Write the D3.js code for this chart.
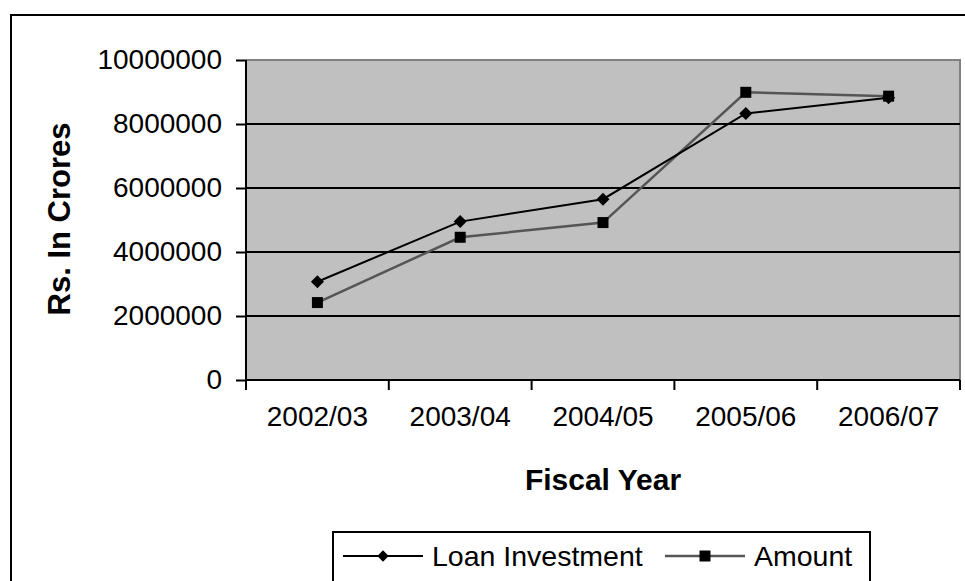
<!DOCTYPE html>
<html>
<head>
<meta charset="utf-8">
<script src="https://cdn.jsdelivr.net/npm/d3@7"></script>
<style>
  html, body { margin: 0; padding: 0; background: #fff; }
  svg { display: block; font-family: "Liberation Sans", Arial, sans-serif; }
</style>
</head>
<body>
<svg id="chart" width="965" height="581"></svg>
<script>
// Fiscal years on the x axis
const categories = ["2002/03", "2003/04", "2004/05", "2005/06", "2006/07"];
// Series values (Rs. in crores)
const loanInvestment = [3070000, 4950000, 5650000, 8330000, 8820000];
const amount = [2420000, 4460000, 4920000, 8990000, 8870000];
// Y axis tick values
const yTicks = [0, 2000000, 4000000, 6000000, 8000000, 10000000];

const svg = d3.select("#chart");

// Outer chart frame
svg.append("rect")
  .attr("x", 11).attr("y", 15)
  .attr("width", 1000).attr("height", 700)
  .attr("fill", "#fff").attr("stroke", "#000").attr("stroke-width", 2);

const plot = { left: 246, top: 60, right: 960, bottom: 380 };

const x = d3.scaleBand().domain(categories).range([plot.left, plot.right]).padding(0);
const y = d3.scaleLinear().domain([0, 10000000]).range([plot.bottom, plot.top]);

// Plot area background
svg.append("rect")
  .attr("x", plot.left).attr("y", plot.top)
  .attr("width", plot.right - plot.left).attr("height", plot.bottom - plot.top)
  .attr("fill", "#c0c0c0");

// Plot area border (top and right in gray)
svg.append("path")
  .attr("d", `M${plot.left},${plot.top}H${plot.right}V${plot.bottom}`)
  .attr("fill", "none").attr("stroke", "#808080").attr("stroke-width", 2);

// Horizontal gridlines
svg.append("g")
  .selectAll("line")
  .data(yTicks.filter(d => d > 0 && d < 10000000))
  .join("line")
  .attr("x1", plot.left).attr("x2", plot.right)
  .attr("y1", d => y(d)).attr("y2", d => y(d))
  .attr("stroke", "#000").attr("stroke-width", 2);

// Y axis
const yAxis = svg.append("g")
  .attr("transform", `translate(${plot.left},0)`)
  .call(d3.axisLeft(y).tickValues(yTicks).tickFormat(d3.format("d")).tickSize(10).tickPadding(14));
yAxis.select(".domain").attr("stroke", "#000").attr("stroke-width", 2)
  .attr("d", `M0,${plot.top}V${plot.bottom}`);
yAxis.selectAll(".tick line").attr("stroke", "#000").attr("stroke-width", 2);
yAxis.selectAll(".tick text")
  .attr("fill", "#000").attr("font-size", 28)
  .attr("font-family", "Liberation Sans, Arial, sans-serif");

// X axis with ticks on band boundaries
const xAxisG = svg.append("g")
  .attr("transform", `translate(0,${plot.bottom})`);
xAxisG.append("line")
  .attr("x1", plot.left).attr("x2", plot.right)
  .attr("stroke", "#000").attr("stroke-width", 2);
const bounds = categories.map(c => x(c)).concat([x(categories[categories.length - 1]) + x.bandwidth()]);
xAxisG.selectAll("line.tick")
  .data(bounds)
  .join("line").attr("class", "tick")
  .attr("x1", d => d).attr("x2", d => d)
  .attr("y1", 0).attr("y2", 10)
  .attr("stroke", "#000").attr("stroke-width", 2);
xAxisG.selectAll("text")
  .data(categories)
  .join("text")
  .attr("x", d => x(d) + x.bandwidth() / 2)
  .attr("y", 46)
  .attr("text-anchor", "middle")
  .attr("font-size", 28)
  .attr("fill", "#000")
  .text(d => d);

// Axis titles
svg.append("text")
  .attr("transform", `translate(70,219) rotate(-90)`)
  .attr("text-anchor", "middle")
  .attr("font-size", 31).attr("font-weight", "bold")
  .text("Rs. In Crores");

svg.append("text")
  .attr("x", 603).attr("y", 490)
  .attr("text-anchor", "middle")
  .attr("font-size", 30).attr("font-weight", "bold")
  .text("Fiscal Year");

// Series lines and markers
const cx = d => x(d) + x.bandwidth() / 2;
const line = d3.line().x((d, i) => cx(categories[i])).y(d => y(d));

svg.append("path")
  .datum(amount)
  .attr("d", line)
  .attr("fill", "none").attr("stroke", "#555").attr("stroke-width", 2.5);

svg.append("path")
  .datum(loanInvestment)
  .attr("d", line)
  .attr("fill", "none").attr("stroke", "#000").attr("stroke-width", 2);

const diamond = d3.symbol().type(d3.symbolSquare).size(85);
const square = d3.symbol().type(d3.symbolSquare).size(121);

svg.append("g").selectAll("path")
  .data(loanInvestment)
  .join("path")
  .attr("transform", (d, i) => `translate(${cx(categories[i])},${y(d)}) rotate(45)`)
  .attr("d", diamond)
  .attr("fill", "#000");

svg.append("g").selectAll("path")
  .data(amount)
  .join("path")
  .attr("transform", (d, i) => `translate(${cx(categories[i])},${y(d)})`)
  .attr("d", square)
  .attr("fill", "#000");

// Legend
const legend = svg.append("g");
legend.append("rect")
  .attr("x", 333).attr("y", 532)
  .attr("width", 537).attr("height", 100)
  .attr("fill", "#fff").attr("stroke", "#000").attr("stroke-width", 2);

const legendItems = [
  { name: "Loan Investment", x0: 343, stroke: "#000", width: 2, marker: "diamond" },
  { name: "Amount", x0: 665, stroke: "#555", width: 2.5, marker: "square" }
];
const ly = 556;
legendItems.forEach(it => {
  legend.append("line")
    .attr("x1", it.x0).attr("x2", it.x0 + 80)
    .attr("y1", ly).attr("y2", ly)
    .attr("stroke", it.stroke).attr("stroke-width", it.width);
  legend.append("path")
    .attr("transform", `translate(${it.x0 + 40},${ly})` + (it.marker === "diamond" ? " rotate(45)" : ""))
    .attr("d", it.marker === "diamond" ? d3.symbol().type(d3.symbolSquare).size(64) : square)
    .attr("fill", "#000");
  legend.append("text")
    .attr("x", it.x0 + 89).attr("y", ly + 10)
    .attr("font-size", 28.5)
    .attr("fill", "#000")
    .text(it.name);
});
</script>
</body>
</html>
